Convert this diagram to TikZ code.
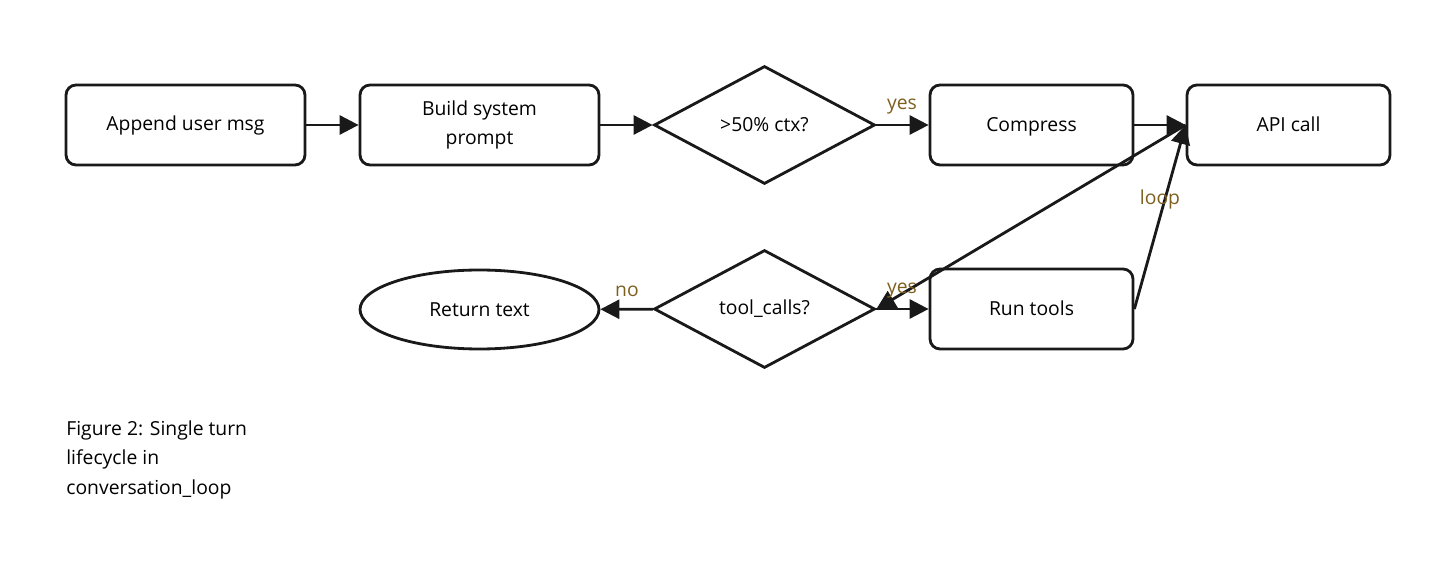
\documentclass[tikz,border=0pt]{standalone}
\usepackage{fontspec}
\setmainfont{Open Sans}
\usepackage{xcolor}
\usepackage{tikz}
\usetikzlibrary{arrows.meta,positioning,shapes.geometric}
\definecolor{fline}{RGB}{25,25,25}
\definecolor{flab}{RGB}{125,95,30}
\tikzset{
  proc/.style={rectangle,rounded corners=0.2cm,draw=fline,line width=1.6pt,fill=white,
               minimum height=1.6cm,minimum width=4.78cm,font=\fontsize{11}{16}\selectfont,
               align=center,inner sep=2pt},
  procs/.style={proc,minimum width=4.06cm,text height=1.6ex,text depth=0.2ex},
  dec/.style={diamond,draw=fline,line width=1.6pt,fill=white,minimum width=4.42cm,
              minimum height=2.36cm,inner sep=0pt,font=\fontsize{11}{16}\selectfont},
  term/.style={ellipse,draw=fline,line width=1.6pt,fill=white,minimum width=4.78cm,
               minimum height=1.58cm,inner sep=0pt,font=\fontsize{11}{16}\selectfont},
  flow/.style={-{Triangle[length=3.8mm,width=3.8mm]},fline,line width=1.6pt},
  lab/.style={font=\fontsize{11}{13}\selectfont,text=flab,inner sep=1pt},
}
\begin{document}
\begin{tikzpicture}[x=0.02cm,y=-0.02cm]
  \useasboundingbox (0,0) rectangle (1456,563);
  % top row
  \node[proc]  (append) at (185.5,125)  {Append user msg};
  \node[proc]  (build)  at (479.5,125)  {Build system\\prompt};
  \node[dec]   (ctx)    at (764.5,125)  {>50\% ctx?};
  \node[procs] (comp)   at (1031.5,125) {Compress};
  \node[procs] (api)    at (1288.5,125) {API call};
  % bottom row
  \node[term]  (ret)    at (479.5,309.5) {Return text};
  \node[dec]   (tools)  at (764.5,309)  {tool\_calls?};
  \node[procs] (run)    at (1031.5,309) {Run tools};
  % edges
  \draw[flow] (append) -- (build);
  \draw[flow] (build) -- (ctx);
  \draw[flow] (ctx) -- (comp);
  \draw[flow] (comp) -- (api);
  \draw[flow] (api.west) -- (tools.east);
  \draw[flow] (tools) -- (run);
  \draw[flow] (tools) -- (ret);
  \draw[flow] (run.east) -- (api.west);
  % labels
  \node[lab] (lyes1) at (902,107)  {yes};
  \node[lab] (lyes2) at (902,291)  {yes};
  \node[lab] (lno)   at (627,291)  {no};
  \node[lab] (lloop) at (1160,199) {loop};
  % caption
  \node[anchor=north west,align=left,inner sep=0pt,font=\fontsize{11}{17}\selectfont]
    (cap) at (66,420) {Figure 2: Single turn\\lifecycle in\\conversation\_loop};
\end{tikzpicture}
\end{document}
